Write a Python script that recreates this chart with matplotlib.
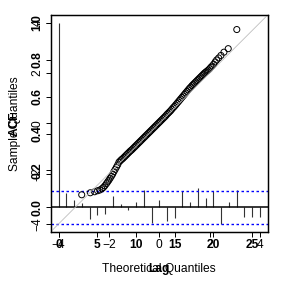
import matplotlib
matplotlib.use("Agg")
import matplotlib.pyplot as plt

plt.rcParams['font.family'] = ['Liberation Sans', 'DejaVu Sans']

# ---- ACF data ----
lags = list(range(27))
acf_vals = [1.0, 0.08, 0.042, 0.022, -0.062, -0.04, -0.036, 0.06, 0.02, -0.015,
            0.03, 0.092, -0.087, 0.04, -0.072, -0.06, 0.088, 0.03, 0.105, 0.05,
            0.088, -0.088, 0.03, 0.094, -0.05, -0.055, -0.05]
ci = 0.091

# ---- QQ data (theoretical quantile, sample quantile) ----
theo_q = [-3.08, -2.74, -2.57, -2.45, -2.36, -2.28, -2.22, -2.16, -2.10, -2.05,
          -2.00, -1.95, -1.90, -1.85, -1.80, -1.75, -1.70, -1.65,
          -1.60, -1.55, -1.50, -1.45, -1.40, -1.35, -1.30, -1.25, -1.20, -1.15,
          -1.10, -1.05, -1.00, -0.95, -0.90, -0.85, -0.80, -0.75, -0.70, -0.65,
          -0.60, -0.55, -0.50, -0.45, -0.40, -0.35, -0.30, -0.25, -0.20, -0.15,
          -0.10, -0.05, 0.00, 0.05, 0.10, 0.15, 0.20, 0.25, 0.30, 0.35,
          0.40, 0.45, 0.50, 0.55, 0.60, 0.65, 0.70, 0.75, 0.80, 0.85,
          0.90, 0.95, 1.00, 1.05, 1.10, 1.15, 1.20, 1.25, 1.30, 1.35,
          1.40, 1.45, 1.50, 1.55, 1.60, 1.65, 1.70, 1.75, 1.80,
          1.85, 1.90, 1.95, 2.00, 2.05, 2.10, 2.16, 2.22, 2.28, 2.36,
          2.45, 2.57, 2.74, 3.08]
sample_q = [-2.84, -2.76, -2.72, -2.68, -2.65, -2.60, -2.55, -2.48, -2.40, -2.33,
            -2.26, -2.18, -2.10, -2.02, -1.92, -1.83, -1.74, -1.65,
            -1.54, -1.49, -1.44, -1.40, -1.35, -1.30, -1.25, -1.20, -1.15, -1.10,
            -1.06, -1.01, -0.96, -0.91, -0.86, -0.81, -0.76, -0.71, -0.66, -0.61,
            -0.56, -0.51, -0.46, -0.41, -0.36, -0.31, -0.26, -0.21, -0.16, -0.11,
            -0.06, -0.01, 0.04, 0.09, 0.14, 0.19, 0.24, 0.29, 0.35, 0.40,
            0.45, 0.50, 0.56, 0.62, 0.67, 0.73, 0.79, 0.85, 0.91, 0.97,
            1.03, 1.09, 1.15, 1.21, 1.27, 1.33, 1.39, 1.44, 1.50, 1.55,
            1.60, 1.65, 1.70, 1.75, 1.80, 1.85, 1.90, 1.95, 2.00,
            2.04, 2.08, 2.12, 2.17, 2.23, 2.28, 2.35, 2.44, 2.52, 2.60,
            2.70, 2.83, 2.97, 3.73]

acf_xticks = [0, 5, 10, 15, 20, 25]
acf_yticks = [0.0, 0.2, 0.4, 0.6, 0.8, 1.0]
qq_ticks = [-4, -2, 0, 2, 4]

FS = 8.64
W = 283
fig = plt.figure(figsize=(2.83, 2.83), dpi=100)
rect = [50.5 / W, (W - 232) / W, 217.5 / W, 217.3 / W]

ax1 = fig.add_axes(rect)
ax2 = fig.add_axes(rect)
ax2.patch.set_alpha(0)

# ACF
ax1.set_xlim(-1.04, 27.04)
ax1.set_ylim(-0.1336, 1.0436)
ax1.vlines(lags, 0, acf_vals, color='#333333', lw=0.8)
ax1.axhline(0, color='black', lw=1.1)
for v in (ci, -ci):
    ax1.axhline(v, color='#0000ff', lw=1.0, linestyle=(0, (1.8, 1.8)))
ax1.set_xticks(acf_xticks)
ax1.set_xticklabels([str(t) for t in acf_xticks], fontweight='bold')
ax1.set_yticks(acf_yticks)
ax1.set_yticklabels([f"{t:.1f}" for t in acf_yticks], fontweight='bold')
ax1.set_xlabel('Lag', fontsize=FS, fontweight='bold')
ax1.set_ylabel('ACF', fontsize=FS, fontweight='bold')

# QQ
ax2.set_xlim(-4.32, 4.32)
ax2.set_ylim(-4.32, 4.32)
ax2.plot([-4.32, 4.32], [-4.32, 4.32], color='#bebebe', lw=0.6)
ax2.scatter(theo_q, sample_q, s=19, facecolors='none', edgecolors='black', linewidths=0.7)
ax2.set_xticks(qq_ticks)
ax2.set_yticks(qq_ticks)
ax2.set_xticklabels(['\u22124', '\u22122', '0', '2', '4'])
ax2.set_yticklabels(['\u22124', '\u22122', '0', '2', '4'])
ax2.set_xlabel('Theoretical Quantiles', fontsize=FS)
ax2.set_ylabel('Sample Quantiles', fontsize=FS)

for ax in (ax1, ax2):
    ax.tick_params(axis='both', length=3.6, width=0.7, pad=1.5, labelsize=FS,
                   direction='out')
    ax.tick_params(axis='y', labelrotation=90)
    for lab in ax.get_yticklabels():
        lab.set_va('center')
    for s in ax.spines.values():
        s.set_linewidth(0.9)
    ax.xaxis.set_label_coords(0.5, -0.143)
    ax.yaxis.set_label_coords(-0.135, 0.5)

fig.savefig('out.png', dpi=100, facecolor='white')
